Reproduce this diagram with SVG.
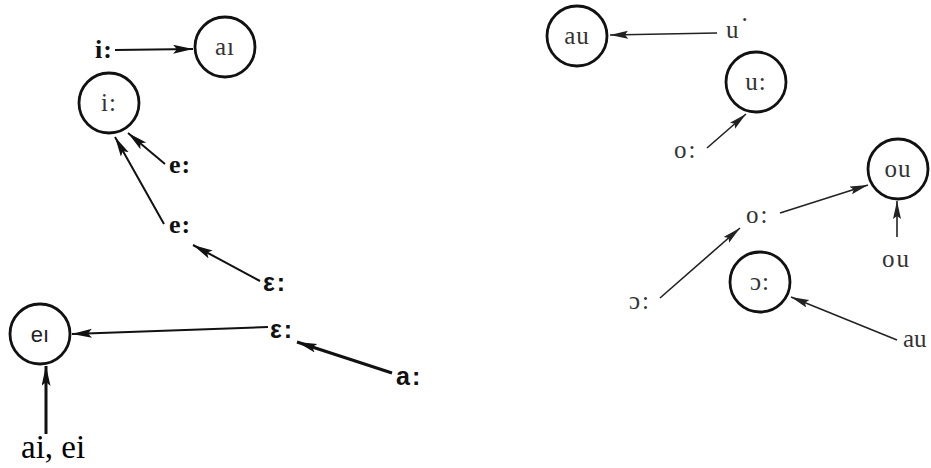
<svg xmlns="http://www.w3.org/2000/svg" width="931" height="468" viewBox="0 0 931 468">
<defs>
<marker id="ah" markerUnits="userSpaceOnUse" markerWidth="22" markerHeight="10" refX="20" refY="4.5" orient="auto">
<path d="M0,0 L20,4.5 L0,9 L4,4.5 z" fill="#111"/>
</marker>
<marker id="ahs" markerUnits="userSpaceOnUse" markerWidth="20" markerHeight="9" refX="18" refY="4" orient="auto">
<path d="M0,0 L18,4 L0,8 L3,4 z" fill="#222"/>
</marker>
</defs>
<style>
.node{fill:#fff;stroke:#111;stroke-width:2.8}
.in{font-family:"Liberation Serif",serif;font-size:25px;fill:#333;text-anchor:middle;letter-spacing:1px}
.inb{font-family:"Liberation Sans",sans-serif;font-size:22px;fill:#222;text-anchor:middle}
.lb{font-family:"Liberation Serif",serif;font-weight:bold;font-size:26px;fill:#111;letter-spacing:1px}
.ls{font-family:"Liberation Sans",sans-serif;font-weight:bold;font-size:25px;fill:#111;letter-spacing:2px}
.lr{font-family:"Liberation Serif",serif;font-size:25px;fill:#333;letter-spacing:2px}
.big{font-family:"Liberation Serif",serif;font-size:33px;fill:#000}
.c{fill:none;stroke:#111;stroke-width:2;marker-end:url(#ah)}
.ct{fill:none;stroke:#111;stroke-width:3;marker-end:url(#ah)}
.cr{fill:none;stroke:#222;stroke-width:1.6;marker-end:url(#ahs)}
</style>
<g id="connectors">
<line class="c" x1="115" y1="50" x2="193" y2="49"/>
<line class="c" x1="165" y1="164" x2="128" y2="133"/>
<line class="c" x1="164" y1="224" x2="115" y2="137"/>
<line class="c" x1="260" y1="281" x2="193" y2="245"/>
<line class="c" x1="268" y1="327" x2="72" y2="334"/>
<line class="ct" x1="392" y1="373" x2="297" y2="342"/>
<line class="ct" x1="46" y1="434" x2="46" y2="366"/>
<line class="cr" x1="717" y1="33" x2="610" y2="35"/>
<line class="cr" x1="707" y1="148" x2="746" y2="114"/>
<line class="cr" x1="780" y1="213" x2="868" y2="185"/>
<line class="cr" x1="660" y1="298" x2="740" y2="228"/>
<line class="cr" x1="897" y1="237" x2="897" y2="201"/>
<line class="cr" x1="897" y1="340" x2="791" y2="297"/>
</g>
<g id="n-ai-circle"><circle class="node" cx="225" cy="47" r="30"/><text class="in" x="225" y="55">aı</text></g>
<g id="n-i-circle"><circle class="node" cx="109" cy="103" r="30"/><text class="in" x="109" y="111">i:</text></g>
<g id="n-ei-circle"><circle class="node" cx="40" cy="334" r="30"/><text class="inb" x="40" y="342">eı</text></g>
<g id="n-au-circle"><circle class="node" cx="577" cy="36" r="30"/><text class="in" x="577" y="44">au</text></g>
<g id="n-u-circle"><circle class="node" cx="756" cy="82" r="30"/><text class="in" x="756" y="90">u:</text></g>
<g id="n-ou-circle"><circle class="node" cx="898" cy="169" r="30"/><text class="in" x="898" y="177">ou</text></g>
<g id="n-o-circle"><circle class="node" cx="760" cy="282" r="30"/><text class="in" x="760" y="290">ɔ:</text></g>
<g id="l-i"><text class="lb" x="95" y="58">i:</text></g>
<g id="l-e1"><text class="lb" x="169" y="173">e:</text></g>
<g id="l-e2"><text class="lb" x="169" y="233">e:</text></g>
<g id="l-eps1"><text class="ls" x="263" y="291">ε:</text></g>
<g id="l-eps2"><text class="ls" x="270" y="338">ε:</text></g>
<g id="l-a"><text class="ls" x="396" y="385">a:</text></g>
<g id="l-aiei"><text class="big" x="21" y="458">ai, ei</text></g>
<g id="l-u"><text class="lr" x="726" y="38">u<tspan dy="-10">·</tspan></text></g>
<g id="l-o1"><text class="lr" x="674" y="158">o:</text></g>
<g id="l-o2"><text class="lr" x="746" y="223">o:</text></g>
<g id="l-open-o"><text class="lr" x="629" y="309">ɔ:</text></g>
<g id="l-ou"><text class="lr" x="882" y="267">ou</text></g>
<g id="l-au"><text class="lr" x="903" y="347" style="letter-spacing:0">au</text></g>
</svg>
